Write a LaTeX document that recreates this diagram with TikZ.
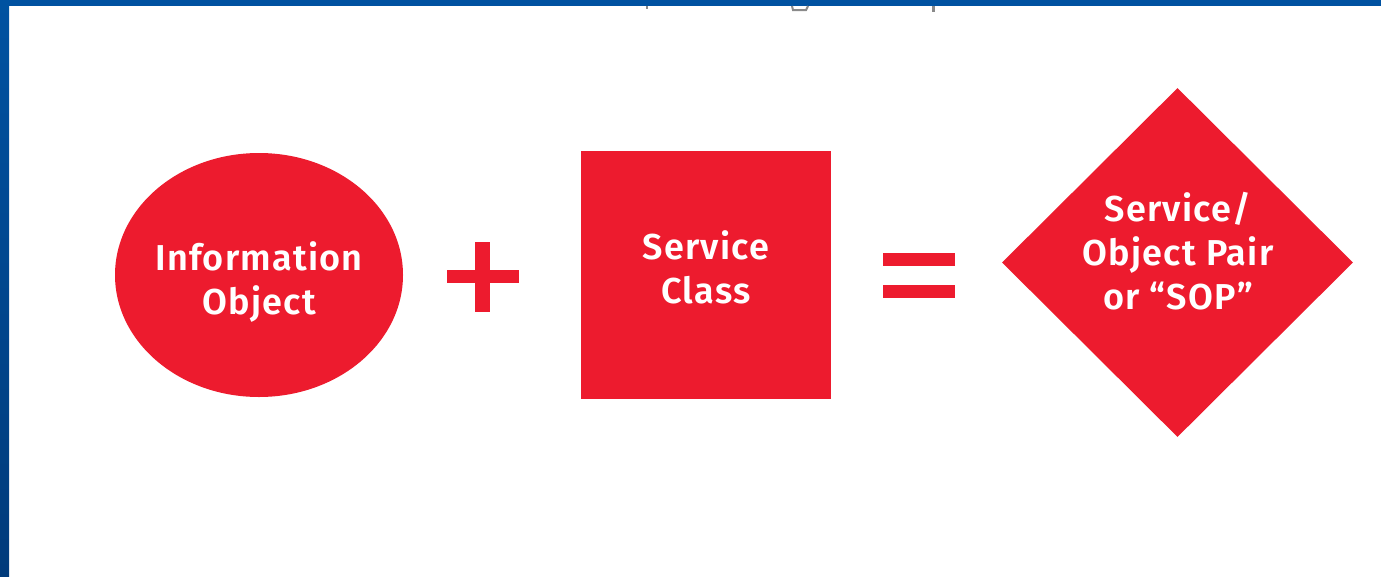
\documentclass[tikz,border=0pt]{standalone}
\usepackage{fontspec}
\setmainfont{Fira Sans}[UprightFont=* SemiBold,LetterSpace=3.5]
\usetikzlibrary{shapes.geometric}
\definecolor{sopred}{HTML}{ED1B2E}
\definecolor{frameblue}{HTML}{0052A1}
\definecolor{frameblueDark}{HTML}{003B7B}
\definecolor{cutgray}{HTML}{8A8A8A}
\begin{document}
\begin{tikzpicture}[x=1pt,y=-1pt,
  shapefill/.style={fill=sopred,draw=none,inner sep=0pt},
  shapetext/.style={text=white,align=center,font=\fontsize{36}{44}\selectfont,inner sep=0pt},
  sign/.style={fill=sopred,draw=none}]
  \useasboundingbox (0,0) rectangle (1381,576);
  \fill[white] (0,0) rectangle (1381,576);
  % frame bars
  \fill[frameblue] (0,0) rectangle (1381,6);
  \shade[top color=frameblue,bottom color=frameblueDark] (0,0) rectangle (9,576);
  % remains of a clipped heading
  \fill[cutgray] (646,6) rectangle (648,9);
  \draw[cutgray,line width=2pt] (792,6) -- (793,10) -- (806,10) -- (808,6);
  \fill[cutgray] (932,6) rectangle (935,12);
  % shapes
  \node[shapefill,ellipse,minimum width=288pt,minimum height=244pt] (io) at (259,275) {};
  \node[shapefill,rectangle,minimum width=250pt,minimum height=248pt] (sc) at (706,275) {};
  \node[shapefill,diamond,minimum width=351pt,minimum height=349pt] (sop) at (1177.5,262.5) {};
  % texts
  \node[shapetext] (iot) at (259,282) {Information\\Object};
  \node[shapetext] (sct) at (706,267) {Service\\Class};
  \node[shapetext] (sopt) at (1178,251) {Service/\\Object Pair\\or “SOP”};
  % plus
  \fill[sign] (475,242) rectangle (490,312);
  \fill[sign] (447,270) rectangle (519,283);
  % equals
  \fill[sign] (883,253) rectangle (955,266);
  \fill[sign] (883,285) rectangle (955,298);
\end{tikzpicture}
\end{document}
